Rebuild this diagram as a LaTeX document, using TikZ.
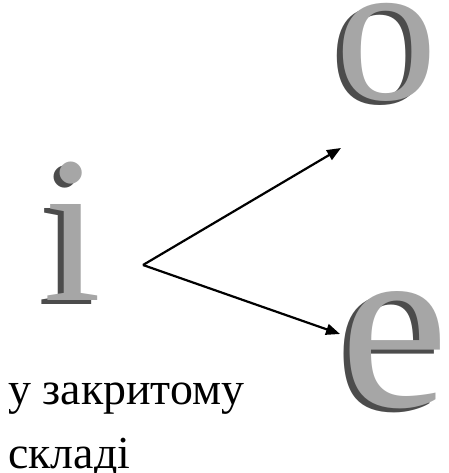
\documentclass[tikz,border=0pt]{standalone}
\usepackage{fontspec}
\setmainfont{Liberation Serif}
\usetikzlibrary{arrows.meta}

\colorlet{metalface}{black!35}
\colorlet{metalside}{black!70}

\begin{document}
\begin{tikzpicture}[x=1bp, y=-1bp,
    letter/.style={inner sep=0pt, anchor=base, text=metalface},
    letterside/.style={inner sep=0pt, anchor=base, text=metalside},
    caption/.style={inner sep=0pt, anchor=base west, font=\fontsize{46}{46}\selectfont},
    arrow/.style={-{Triangle[length=14bp, width=11bp]}, line width=2.2bp},
  ]
    \useasboundingbox (0,0) rectangle (449,473);

    % big letters (dark side first, then the face)
    \node[letterside, font=\fontsize{210}{210}\selectfont] (iside) at (67,304) {і};
    \node[letter, font=\fontsize{210}{210}\selectfont] (i) at (73,300) {і};

    \node[letterside, font=\fontsize{205}{205}\selectfont] (oside) at (381,104) {о};
    \node[letter, font=\fontsize{205}{205}\selectfont] (o) at (387,100) {о};

    \node[letterside, font=\fontsize{245}{245}\selectfont] (eside) at (389,410) {е};
    \node[letter, font=\fontsize{245}{245}\selectfont] (e) at (395,406) {е};

    % caption
    \node[caption] (line1) at (8,404) {у закритому};
    \node[caption] (line2) at (8,468) {складі};

    % fork
    \coordinate (fork) at (143,265);
    \coordinate (toO) at (341,148);
    \coordinate (toE) at (340,334);
    \draw[arrow] (fork) -- (toO);
    \draw[arrow] (fork) -- (toE);
  \end{tikzpicture}
\end{document}
